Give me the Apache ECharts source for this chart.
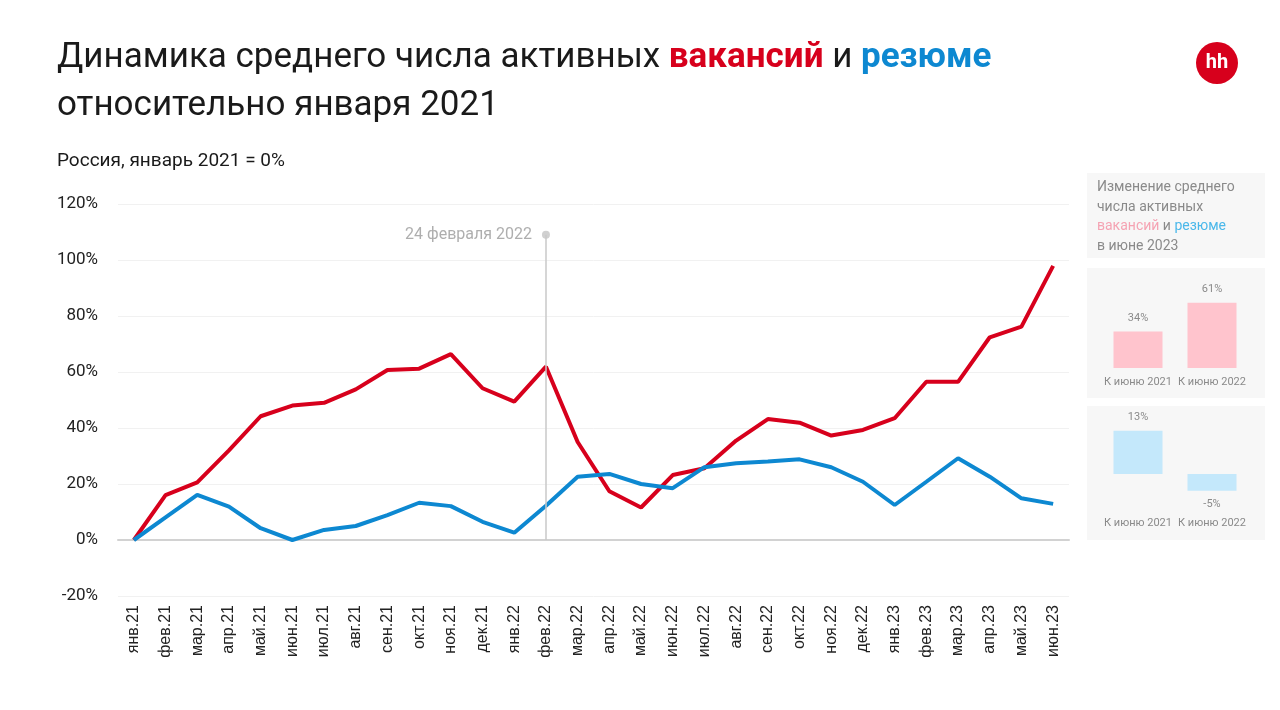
<!DOCTYPE html>
<html><head><meta charset="utf-8">
<script src="https://cdn.jsdelivr.net/npm/echarts@6/dist/echarts.min.js"></script>
<style>html,body{margin:0;padding:0;background:#fff}#c{width:1280px;height:710px}</style>
</head><body><div id="c"></div>
<script>
const categories = ['янв.21','фев.21','мар.21','апр.21','май.21','июн.21','июл.21','авг.21','сен.21','окт.21','ноя.21','дек.21','янв.22','фев.22','мар.22','апр.22','май.22','июн.22','июл.22','авг.22','сен.22','окт.22','ноя.22','дек.22','янв.23','фев.23','мар.23','апр.23','май.23','июн.23'];
const vacancies = [0,16,20.6,32,44.2,48,49,53.8,60.7,61.2,66.4,54.2,49.4,61.9,35,17.4,11.6,23.2,25.6,35.5,43.2,41.9,37.3,39.3,43.5,56.5,56.5,72.4,76.2,97.9];
const resumes = [0,8.1,16.1,11.9,4.2,0,3.6,5,8.9,13.3,12.1,6.5,2.6,12.2,22.6,23.6,20,18.5,26,27.4,28,28.8,26,20.8,12.5,20.8,29.2,22.6,14.9,12.9];
const yTicks = [-20,0,20,40,60,80,100,120];
const eventCategory = 'фев.22';
const eventTop = 109;
const eventLabel = '24 февраля 2022';
const panelCats = ['К июню 2021','К июню 2022'];
const vacChange = [34,61];
const resChange = [13,-5];

const RED = '#d7001c', BLUE = '#0d88d1';
const chart = echarts.init(document.getElementById('c'));
const font = 'Roboto, "Noto Sans", sans-serif';
chart.setOption({
  animation:false,
  textStyle:{fontFamily:font},
  title:{
    left:52, top:29,
    text:'Динамика среднего числа активных {r|вакансий} и {b|резюме}\nотносительно января 2021',
    textStyle:{fontSize:35, fontWeight:'normal', color:'#1a1a1a', lineHeight:48, fontFamily:font,
      rich:{r:{fontSize:35,fontWeight:'bold',color:RED,fontFamily:font}, b:{fontSize:35,fontWeight:'bold',color:BLUE,fontFamily:font}}},
    subtext:'Россия, январь 2021 = 0%',
    itemGap:22,
    subtextStyle:{fontSize:19,color:'#1a1a1a',fontFamily:font}
  },
  graphic:[
    {type:'circle', shape:{cx:1217, cy:63, r:21}, style:{fill:'#d7001c'}},
    {type:'text', x:1217, y:63, style:{text:'hh', fill:'#fff', font:'bold 20px Roboto, sans-serif', textAlign:'center', textVerticalAlign:'middle'}},
    {type:'rect', shape:{x:1087,y:173,width:178,height:85}, style:{fill:'#f7f7f7'}, z:-10},
    {type:'rect', shape:{x:1087,y:268,width:178,height:130}, style:{fill:'#f7f7f7'}, z:-10},
    {type:'rect', shape:{x:1087,y:406,width:178,height:134}, style:{fill:'#f7f7f7'}, z:-10},
    {type:'text', x:1097, y:178, style:{
      text:'Изменение среднего\nчисла активных\n{r|вакансий} и {b|резюме}\nв июне 2023',
      font:'14px Roboto, sans-serif', fill:'#8a8a8a', lineHeight:19.5,
      rich:{r:{fill:'#f5a3b3', fontSize:14, fontFamily:font}, b:{fill:'#4bb8ea', fontSize:14, fontFamily:font}}}}
  ],
  grid:[
    {left:118, width:951, top:204, height:392},
    {left:1101, width:148, top:293, height:75},
    {left:1101, width:148, top:424, height:70}
  ],
  xAxis:[
    {gridIndex:0, type:'category', data:categories, boundaryGap:true,
     axisLine:{onZero:true, lineStyle:{color:'#d2d2d2', width:2}},
     axisTick:{show:false},
     axisLabel:{rotate:90, interval:0, fontSize:16, color:'#222', fontFamily:'"Liberation Sans", Arial, sans-serif', margin:9}},
    {gridIndex:1, type:'category', data:panelCats, axisLine:{show:false,onZero:false}, axisTick:{show:false},
     axisLabel:{fontSize:11, color:'#8a8a8a', margin:9, interval:0}},
    {gridIndex:2, type:'category', data:panelCats, axisLine:{show:false,onZero:false}, axisTick:{show:false},
     axisLabel:{fontSize:11, color:'#8a8a8a', margin:24, interval:0}}
  ],
  yAxis:[
    {gridIndex:0, type:'value', min:yTicks[0], max:yTicks[yTicks.length-1], interval:20,
     axisLabel:{formatter:'{value}%', fontSize:17, color:'#222', margin:20},
     splitLine:{lineStyle:{color:'#f1f1f1', width:1}}, axisLine:{show:false}, axisTick:{show:false}},
    {gridIndex:1, type:'value', min:0, max:70, show:false},
    {gridIndex:2, type:'value', min:-6, max:15, show:false}
  ],
  series:[
    {type:'scatter', xAxisIndex:0, yAxisIndex:0, data:[[eventCategory, eventTop]], symbolSize:8, z:1,
     itemStyle:{color:'#c4c4c4'}, silent:true,
     label:{show:true, position:'left', distance:10, formatter:eventLabel, fontSize:16, color:'#9a9a9a'},
     markLine:{silent:true, symbol:['none','none'], label:{show:false},
       lineStyle:{color:'#c8c8c8', width:1.5, type:'solid'},
       data:[[{coord:[eventCategory,0]},{coord:[eventCategory,eventTop]}]]}},
    {type:'line', name:'вакансии', data:vacancies, symbol:'none', z:3, lineStyle:{color:RED, width:4}, itemStyle:{color:RED}},
    {type:'line', name:'резюме', data:resumes, symbol:'none', z:4, lineStyle:{color:BLUE, width:4}, itemStyle:{color:BLUE}},
    {type:'bar', xAxisIndex:1, yAxisIndex:1, data:vacChange, barWidth:49, itemStyle:{color:'#ffc4cd'},
     label:{show:true, position:'top', formatter:'{c}%', fontSize:11, color:'#8a8a8a', distance:8}},
    {type:'bar', xAxisIndex:2, yAxisIndex:2, barWidth:49, itemStyle:{color:'#c4e8fb'},
     data:resChange.map(v=>({value:v, label:{position: v<0?'bottom':'top'}})),
     label:{show:true, formatter:'{c}%', fontSize:11, color:'#8a8a8a', distance:8}}
  ]
});
</script></body></html>
